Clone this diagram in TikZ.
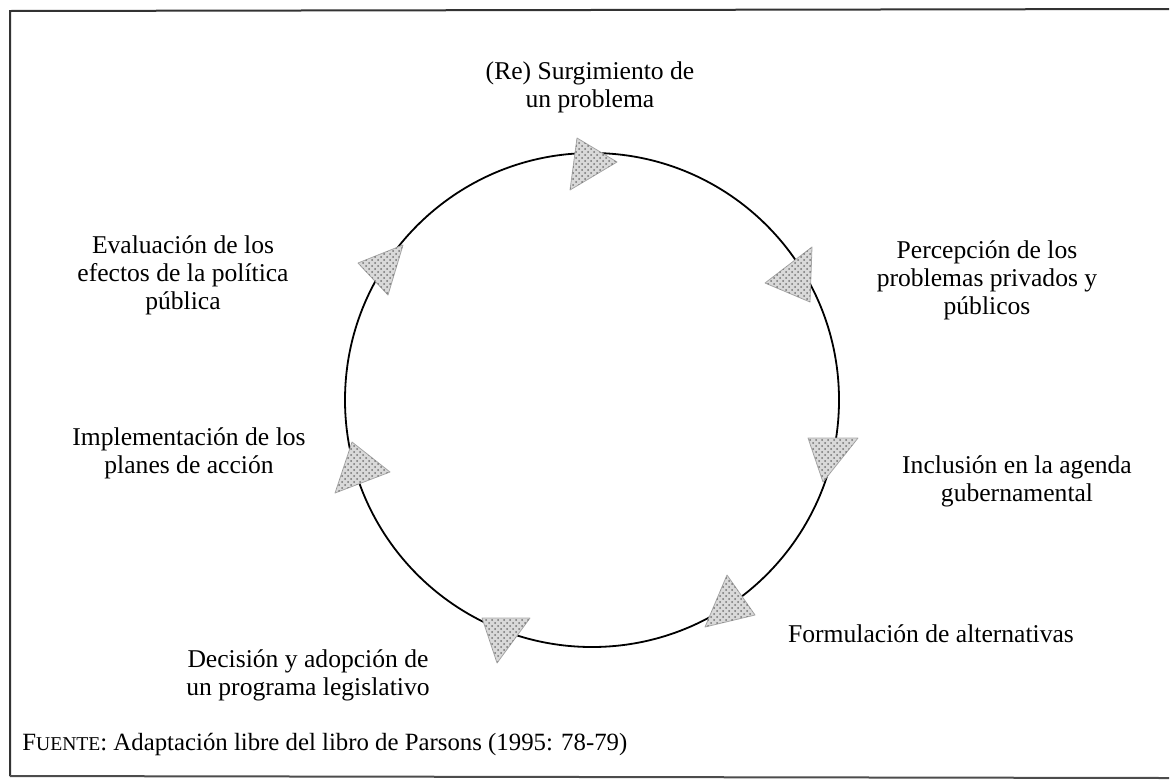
\documentclass[tikz,border=0pt]{standalone}
\usepackage{fontspec}
\setmainfont{Liberation Serif}
\usetikzlibrary{patterns}
\begin{document}
\begin{tikzpicture}[x=0.5pt,y=-0.5pt,
  lbl/.style={align=center,inner sep=0pt,font=\fontsize{12.8}{14}\selectfont},
  tri/.style={fill=gray!30,draw=gray!70,line width=0.4pt,line join=round,
    postaction={pattern=crosshatch dots,pattern color=gray!90!black}}]
\useasboundingbox (0,0) rectangle (1170,782);
% frame
\draw[line width=1pt,black!80] (10,776) -- (10,11) -- (1169,9);
\draw[line width=1pt,black!70] (10,776) -- (1169,778);
% cycle
\node[circle,draw,line width=0.9pt,minimum size=247pt,inner sep=0pt] (cyc) at (592,400) {};
% triangles
\filldraw[tri] (577,138) -- (617,162) -- (570,190) -- cycle;
\filldraw[tri] (812,247) -- (765,283) -- (810,302) -- cycle;
\filldraw[tri] (808,438) -- (858,438) -- (823,482) -- cycle;
\filldraw[tri] (727,575) -- (755,615) -- (705,627) -- cycle;
\filldraw[tri] (482,618) -- (530,618) -- (497,663) -- cycle;
\filldraw[tri] (352,442) -- (390,472) -- (335,493) -- cycle;
\filldraw[tri] (403,245) -- (388,295) -- (358,263) -- cycle;
% labels
\node[lbl] (n1) at (590,87) {(Re) Surgimiento de\\un problema};
\node[lbl] (n2) at (987,280) {Percepción de los\\problemas privados y\\públicos};
\node[lbl] (n3) at (1017,481) {Inclusión en la agenda\\gubernamental};
\node[lbl] (n4) at (931,634) {Formulación de alternativas};
\node[lbl] (n5) at (308,675) {Decisión y adopción de\\un programa legislativo};
\node[lbl] (n6) at (189,453) {Implementación de los\\planes de acción};
\node[lbl] (n7) at (183,275) {Evaluación de los\\efectos de la política\\pública};
\node[anchor=west,inner sep=0pt,font=\fontsize{12.4}{14}\selectfont] (src) at (22,745)
  {F{\fontsize{9.8}{10}\selectfont UENTE}: Adaptación libre del libro de Parsons (1995: 78-79)};
\end{tikzpicture}
\end{document}
